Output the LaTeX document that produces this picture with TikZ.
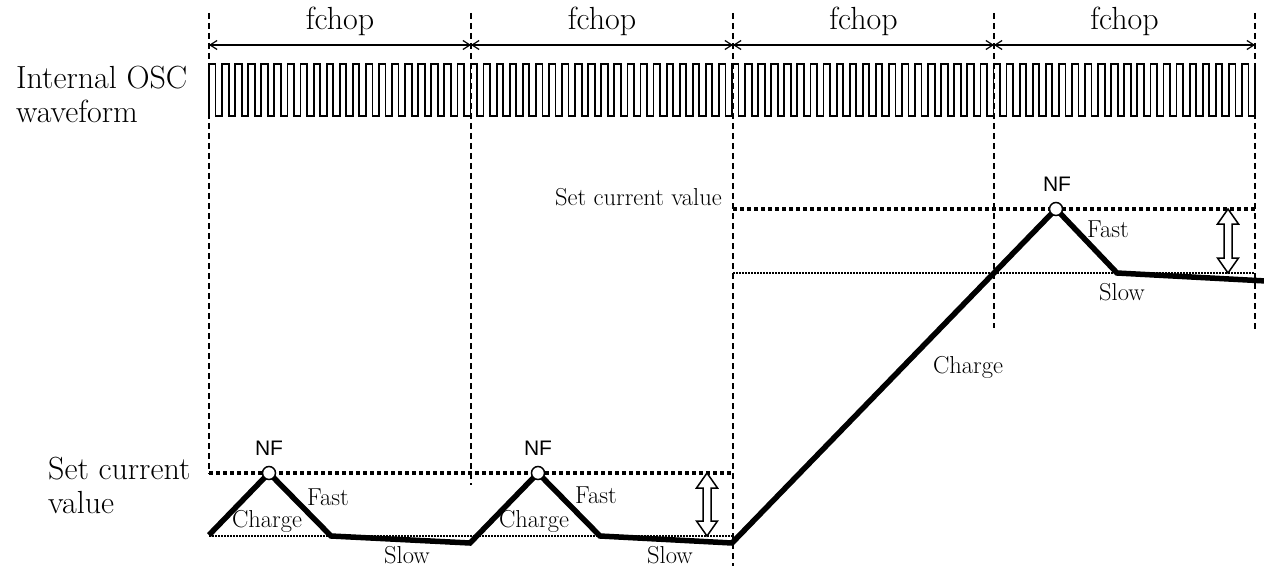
\documentclass[tikz,border=0pt]{standalone}
\usepackage{fontspec}
\newfontfamily\nffont{Liberation Sans}
\usetikzlibrary{arrows.meta}
\begin{document}
\begin{tikzpicture}[x=1pt,y=-1pt,
  guide/.style={line width=1.2pt, dash pattern=on 6pt off 4pt},
  setline/.style={line width=3.4pt, dash pattern=on 4pt off 3pt},
  lowline/.style={line width=1.3pt, dash pattern=on 1.5pt off 1.5pt},
  wave/.style={line width=1.8pt},
  curr/.style={line width=5.5pt},
  nfdot/.style={circle, draw, fill=white, line width=1.5pt, minimum size=13pt, inner sep=0pt},
  big/.style={font=\fontsize{32}{34}\selectfont, align=left, inner sep=0pt},
  small/.style={font=\fontsize{24.5}{28}\selectfont, inner sep=0pt},
  nflabel/.style={font=\nffont\fontsize{21}{24}\selectfont, inner sep=0pt},
  span/.style={line width=1.2pt, {Straight Barb[length=7pt,width=9pt]}-{Straight Barb[length=7pt,width=9pt]}},
  darrow/.style={line width=1.5pt, fill=white}
]
\useasboundingbox (0,0) rectangle (1264,567);

% vertical guides
\coordinate (g1t) at (209,13);  \coordinate (g1b) at (209,474);
\coordinate (g2t) at (471,13);  \coordinate (g2b) at (471,485);
\coordinate (g3t) at (733,13);  \coordinate (g3b) at (733,566);
\coordinate (g4t) at (994,13);  \coordinate (g4b) at (994,328);
\coordinate (g5t) at (1255,13); \coordinate (g5b) at (1255,330);
\draw[guide] (g1t) -- (g1b);
\draw[guide] (g2t) -- (g2b);
\draw[guide] (g3t) -- (g3b);
\draw[guide] (g4t) -- (g4b);
\draw[guide] (g5t) -- (g5b);

% fchop spans
\coordinate (a1) at (209,45); \coordinate (a2) at (471,45); \coordinate (a3) at (733,45);
\coordinate (a4) at (994,45); \coordinate (a5) at (1255,45);
\draw[span] (a1) -- (a2);
\draw[span] (a2) -- (a3);
\draw[span] (a3) -- (a4);
\draw[span] (a4) -- (a5);
\node[big, anchor=base] (fc1) at (340,30) {fchop};
\node[big, anchor=base] (fc2) at (602,30) {fchop};
\node[big, anchor=base] (fc3) at (863.5,30) {fchop};
\node[big, anchor=base] (fc4) at (1124.5,30) {fchop};

% oscillator waveform
\draw[wave] (209,116) foreach \i in {1,...,80}{ -- ++(0,-52) -- ++(6.5375,0) -- ++(0,52) -- ++(6.5375,0) } -- ++(0,-52);

\node[big, anchor=north west] (osc) at (16,66) {Internal OSC\\waveform};
\node[big, anchor=north west] (setl) at (48,457) {Set current\\value};
\node[small, anchor=base east] (setr) at (722,205) {Set current value};

% set current and lower levels
\coordinate (sl1) at (209,473); \coordinate (sl2) at (733,473);
\coordinate (ll1) at (209,536); \coordinate (ll2) at (733,536);
\coordinate (sr1) at (733,209); \coordinate (sr2) at (1255,209);
\coordinate (lr1) at (733,273); \coordinate (lr2) at (1255,273);
\draw[setline] (sl1) -- (sl2);
\draw[lowline] (ll1) -- (ll2);
\draw[setline] (sr1) -- (sr2);
\draw[lowline] (lr1) -- (lr2);

% current waveform
\coordinate (p0) at (209,535);
\coordinate (c1) at (269,473);
\coordinate (f1) at (331,536);
\coordinate (s1) at (470,543);
\coordinate (c2) at (538,473);
\coordinate (f2) at (600,536);
\coordinate (s2) at (732,543);
\coordinate (c3) at (1056,209);
\coordinate (f3) at (1117,273);
\coordinate (s3) at (1266,281);
\draw[curr] (p0) -- (c1) -- (f1) -- (s1) -- (c2) -- (f2) -- (s2) -- (c3) -- (f3) -- (s3);
\node[nfdot] (nf1) at (c1) {};
\node[nfdot] (nf2) at (c2) {};
\node[nfdot] (nf3) at (c3) {};

% double arrows
\draw[darrow] (707,473) -- ++(10.5,15) -- ++(-6.5,0) -- (711,521) -- ++(6.5,0) -- (707,536) -- ++(-10.5,-15) -- ++(6.5,0) -- (703,488) -- ++(-6.5,0) -- cycle;
\draw[darrow] (1228,209) -- ++(10.5,15) -- ++(-6.5,0) -- (1232,258) -- ++(6.5,0) -- (1228,273) -- ++(-10.5,-15) -- ++(6.5,0) -- (1224,224) -- ++(-6.5,0) -- cycle;

% labels
\node[nflabel, anchor=base] (nfl1) at (269,455) {NF};
\node[nflabel, anchor=base] (nfl2) at (538,455) {NF};
\node[nflabel, anchor=base] (nfl3) at (1057,191) {NF};
\node[small, anchor=base] (fa1) at (328,505) {Fast};
\node[small, anchor=base] (fa2) at (596,503) {Fast};
\node[small, anchor=base] (fa3) at (1108,237) {Fast};
\node[small, anchor=base] (ch1) at (267,527) {Charge};
\node[small, anchor=base] (ch2) at (534,527) {Charge};
\node[small, anchor=base] (ch3) at (968,373) {Charge};
\node[small, anchor=base] (sw1) at (407,563) {Slow};
\node[small, anchor=base] (sw2) at (670,563) {Slow};
\node[small, anchor=base] (sw3) at (1122,300) {Slow};
\end{tikzpicture}
\end{document}
